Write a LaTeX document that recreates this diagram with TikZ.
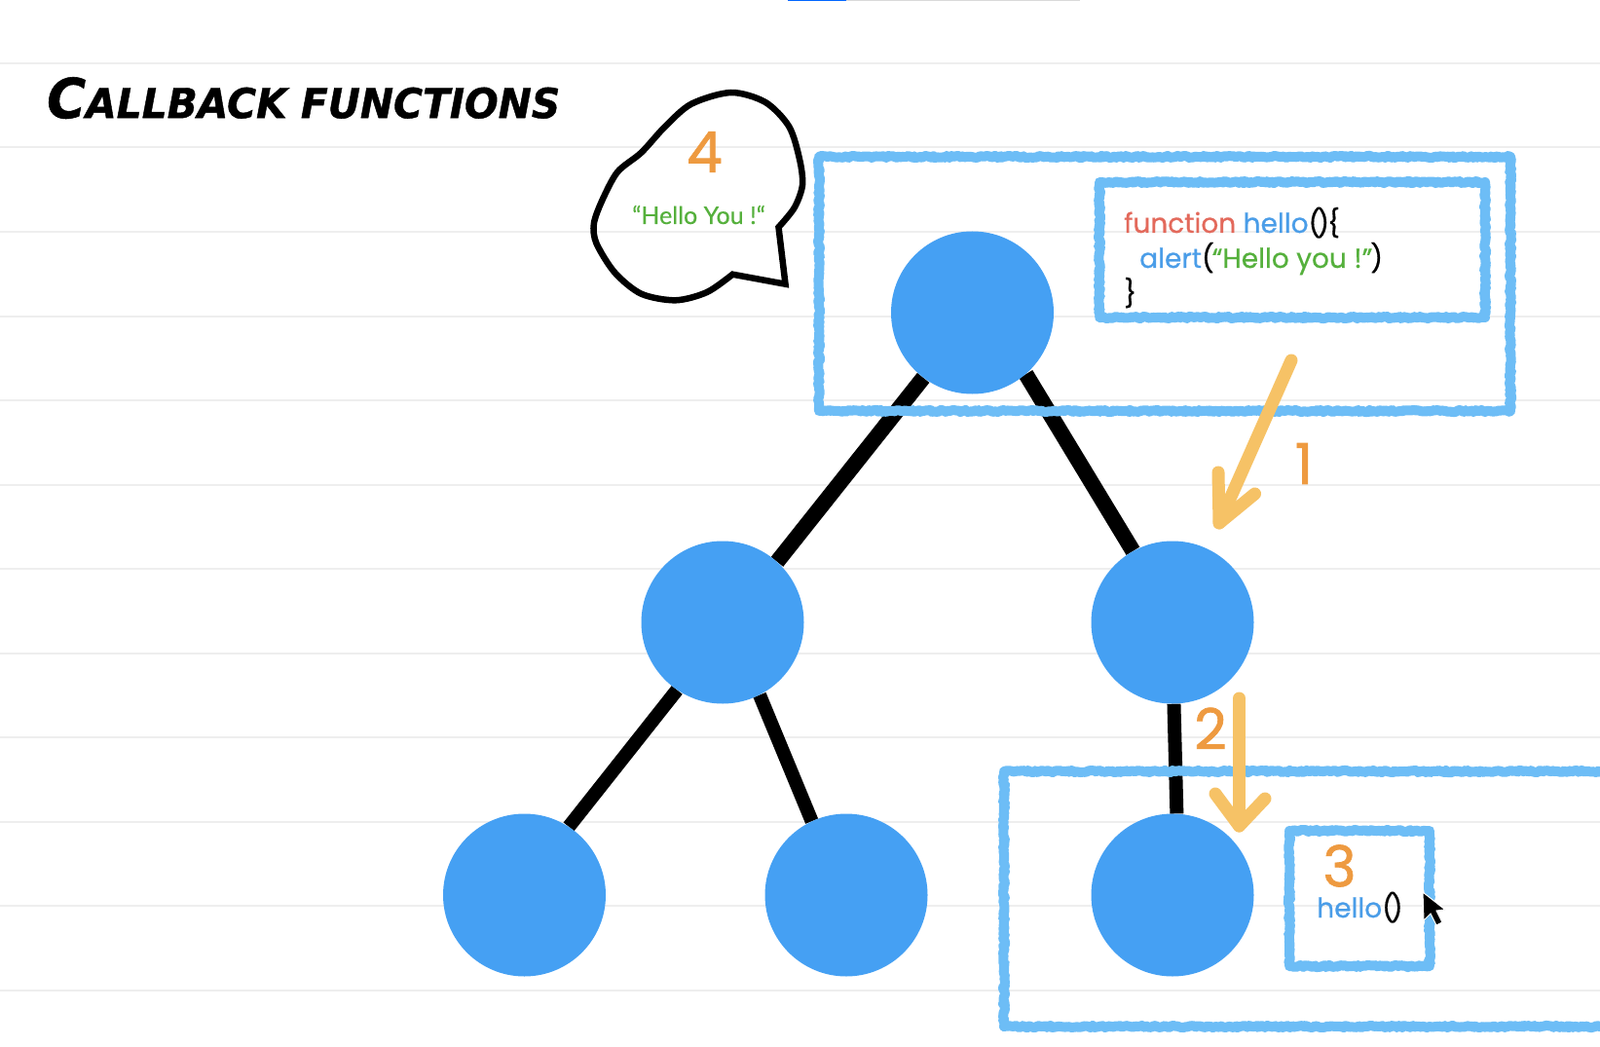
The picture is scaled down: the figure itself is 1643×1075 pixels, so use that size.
\documentclass[tikz,border=0pt]{standalone}
\usepackage{fontspec}
\usepackage{tikz}
\usetikzlibrary{positioning,backgrounds,decorations.pathmorphing}
\newfontfamily\handfont[FakeStretch=1,FakeBold=.6]{Poppins}
\newfontfamily\digitfont[FakeBold=1.2]{Poppins}
\newfontfamily\quotefont[FakeBold=.4]{Lato}
\newfontfamily\brushfont[FakeBold=1]{DejaVu Sans}
\definecolor{ballblue}{HTML}{45A0F3}
\definecolor{crayonblue}{HTML}{6DBDF6}
\definecolor{sketchyellow}{HTML}{F6C266}
\definecolor{steporange}{HTML}{EE9A40}
\definecolor{codegreen}{HTML}{55B03C}
\definecolor{codered}{HTML}{E3695B}
\definecolor{codeblue}{HTML}{4A9DE8}
\definecolor{rulegray}{HTML}{EEEEEE}

\begin{document}
\begin{tikzpicture}
    [ x = 1pt, y = -1pt
    , on grid
    , vertex/.style =
      { fill=ballblue, circle, minimum size=167pt, inner sep=0pt }
    , edge/.style =
      { line width=14pt }
    , topedge/.style =
      { line width=16pt }
    , crayon/.style =
      { draw=crayonblue, line width=10pt, line join=round
      , decoration={random steps,segment length=2pt,amplitude=1.1pt}, decorate }
    , sketch/.style =
      { draw=sketchyellow, line width=13pt, line cap=round, line join=round }
    , stepnum/.style =
      { text=steporange, inner sep=0pt, font=\digitfont\fontsize{58}{58}\selectfont }
    , code/.style =
      { anchor=base west, inner sep=0pt, font=\handfont\fontsize{28}{34}\selectfont }
    , rule/.style =
      { draw=rulegray, line width=2pt }
    ]
    \clip (0,0) rectangle (1643,1075);

    \fill [blue!60!cyan] (809,0) rectangle (869,1.5);
    \fill [black!15] (869,0) rectangle (1109,1);

    \node (title) [anchor=north west, inner sep=0pt] at (48,79)
      {\resizebox{527pt}{42pt}{\brushfont\bfseries\itshape\fontsize{40}{40}\selectfont C\fontsize{30}{30}\selectfont ALLBACK FUNCTIONS}};

    \node [vertex] (root) at (998.5,321) {};
    \node [vertex] (midl) [below left=318pt and 256.5pt of root] {};
    \node [vertex] (midr) [below right=318pt and 205.5pt of root] {};
    \node [vertex] (leafa) [below left=280pt and 203.5pt of midl] {};
    \node [vertex] (leafb) [below right=280pt and 127pt of midl] {};
    \node [vertex] (leafc) [below=280pt of midr] {};

    \begin{scope}[on background layer]
    \fill [white] (0,0) rectangle (1643,1075);
    \foreach \k in {0,...,11}
      \draw [rule] (0,{65+86.5*\k}) -- (1643,{65+86.5*\k});
    \draw [topedge] (root.-127) -- (midl.48);
    \draw [topedge] (root.-49) -- (midr.119);
    \draw [edge] (midl.-124) -- (leafa.57);
    \draw [edge] (midl.-63) -- (leafb.115);
    \draw [edge] (midr.-89) -- (leafc.87);
    \end{scope}

    \draw [crayon] (841,161) rectangle (1551,422);
    \draw [crayon] (1129,187) rectangle (1525,326);
    \draw [crayon] (1650,792) -- (1031,792) -- (1031,1054) -- (1650,1054);
    \draw [crayon] (1324,853) rectangle (1468,992);

    \draw [line width=6.5pt, line join=miter]
      (799.5,233.3) -- (806.5,291.7) -- (752.3,281.7)
      -- plot [smooth] coordinates
        {(752.3,281.7) (726,300) (693.8,308.3) (658.5,301.7) (631.4,280)
         (612.5,250) (609.8,230) (617.9,206.7) (634,176.7) (658.5,156.7)
         (682.9,130) (710,106.7) (750.7,95) (786,105) (810.3,130) (821,163.3)
         (824,190) (815.7,213.3) (799.5,233.3)}
      -- cycle;
    \node [stepnum] (four) at (723.5,156) {4};
    \node (quote) [text=codegreen, inner sep=0pt, anchor=base west
      , font=\quotefont\fontsize{25}{30}\selectfont] at (649,230) {“Hello You !“};

    \node [code] (lineone) at (1154,239)
      {\textcolor{codered}{function} \textcolor{codeblue}{hello}(\kern-4pt)\kern-2pt\{};
    \node [code] (linetwo) at (1170,275)
      {\textcolor{codeblue}{alert}(\kern-2pt\textcolor{codegreen}{“Hello you !”}\kern-2pt)};
    \node [code] (linethree) at (1154,311) {\}};

    \coordinate (ones) at (1326,370);
    \coordinate (onet) at (1252,537);
    \coordinate (onea) at (1251,485);
    \coordinate (oneb) at (1288.5,507);
    \draw [sketch] (ones) -- (onet);
    \draw [sketch] (onea) -- (onet) -- (oneb);
    \node [stepnum] (one) at (1339,476) {1};

    \coordinate (twos) at (1272.5,717);
    \coordinate (twot) at (1272.5,848);
    \coordinate (twoa) at (1248,815);
    \coordinate (twob) at (1299,820);
    \draw [sketch] (twos) -- (twot);
    \draw [sketch] (twoa) -- (twot) -- (twob);
    \node [stepnum] (two) at (1243,748) {2};

    \node [stepnum] (three) at (1375.5,889) {3};
    \node [code] (call) at (1352,942)
      {\textcolor{codeblue}{hello}(\kern-4pt)};

    % mouse pointer
    \fill [black, draw=white, line width=1pt]
      (1461,916) -- (1462,945) -- (1469,938) -- (1475,950) -- (1481,947)
      -- (1475,935) -- (1484,934) -- cycle;
\end{tikzpicture}
\end{document}
